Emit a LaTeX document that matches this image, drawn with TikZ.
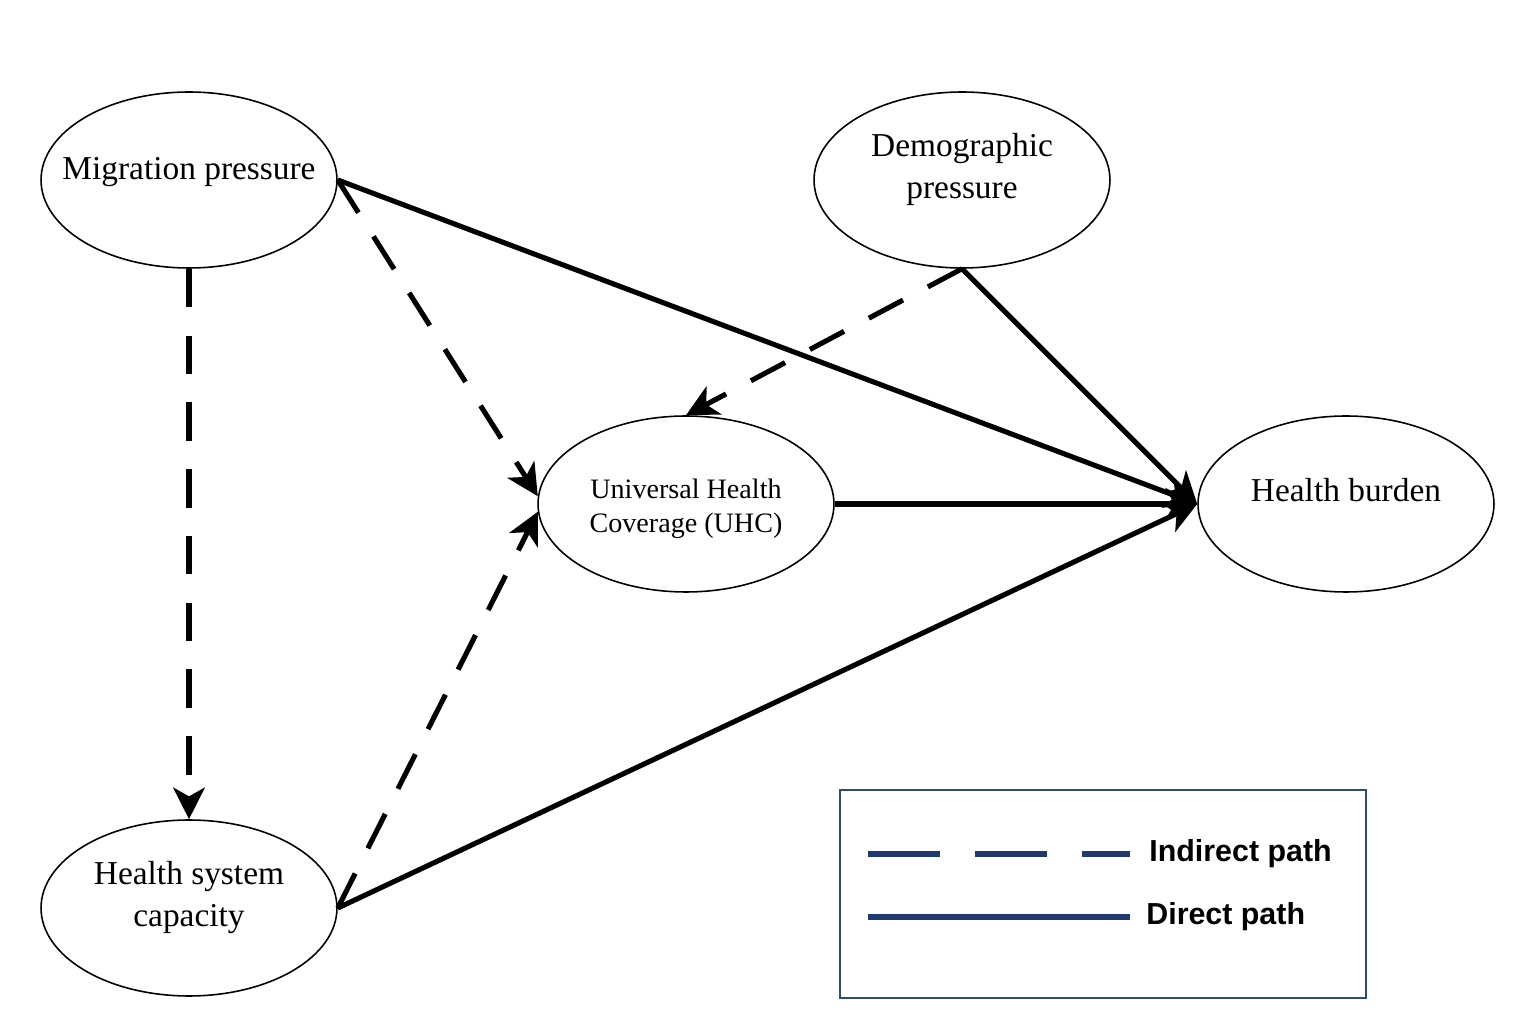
\documentclass[tikz,border=0pt]{standalone}
\usepackage{fontspec}
\setmainfont{Liberation Serif}
\newfontfamily\legendfont{Liberation Sans}
\usetikzlibrary{arrows.meta,positioning,shapes.geometric}
\definecolor{navy}{HTML}{1F3A6E}
\definecolor{frame}{HTML}{2E4A80}
\newcommand{\vartext}[2]{\makebox[0pt]{\raisebox{#1}[\height][\depth]{\begin{tabular}{@{}c@{}}#2\end{tabular}}}}

\begin{document}
\begin{tikzpicture}[
  x=0.02cm, y=0.02cm,
  var/.style={draw, ellipse, line width=0.9pt, minimum width=5.92cm, minimum height=3.52cm, font=\fontsize{19}{24}\selectfont, inner sep=0pt},
  direct/.style={line width=2.9pt},
  indirect/.style={line width=2.9pt, dash pattern=on 22pt off 16pt},
  arrow/.style={-{Stealth[length=18pt,width=18pt,inset=5pt]}}
]
\useasboundingbox (0,0) rectangle (1536,1032);
% variables
\node[var] (mig) at (189,852) {\vartext{5pt}{Migration pressure}};
\node[var] (dem) at (962,852) {\vartext{6.2pt}{Demographic\\pressure}};
\node[var, font=\fontsize{16}{19.5}\selectfont] (uhc) at (686,528) {\vartext{-2.8pt}{Universal Health\\Coverage (UHC)}};
\node[var] (hb) at (1346,528) {\vartext{6pt}{Health burden}};
\node[var] (hsc) at (189,124) {\vartext{6.2pt}{Health system\\capacity}};
% indirect paths
\draw[indirect, arrow] (mig.south) -- (hsc.north);
\draw[indirect, arrow] (mig.east) -- (uhc.177);
\draw[indirect, arrow] (hsc.east) -- (uhc.183);
\draw[indirect, arrow] (dem.south) -- (uhc.north);
% direct paths
\draw[direct, arrow] (mig.east) -- (hb.west);
\draw[direct, arrow] (dem.south) -- (hb.west);
\draw[direct, arrow] (uhc.east) -- (hb.west);
\draw[direct, arrow] (hsc.east) -- (hb.west);
% legend
\node[draw=frame, line width=1.2pt, minimum width=10.52cm, minimum height=4.16cm, inner sep=0pt] (legend) at (1103,138) {};
\coordinate (ia) at (868,178);
\coordinate (ib) at (1130,178);
\coordinate (da) at (868,115);
\coordinate (db) at (1130,115);
\draw[navy, line width=2.9pt, dash pattern=on 41pt off 20pt] (ia) -- (ib);
\draw[navy, line width=2.9pt] (da) -- (db);
\node[right=0.38cm of ib, inner sep=0pt, font=\legendfont\bfseries\fontsize{17.3}{20}\selectfont] (ilab) {Indirect path};
\node[right=0.32cm of db, inner sep=0pt, font=\legendfont\bfseries\fontsize{17.3}{20}\selectfont] (dlab) {Direct path};
\end{tikzpicture}
\end{document}
